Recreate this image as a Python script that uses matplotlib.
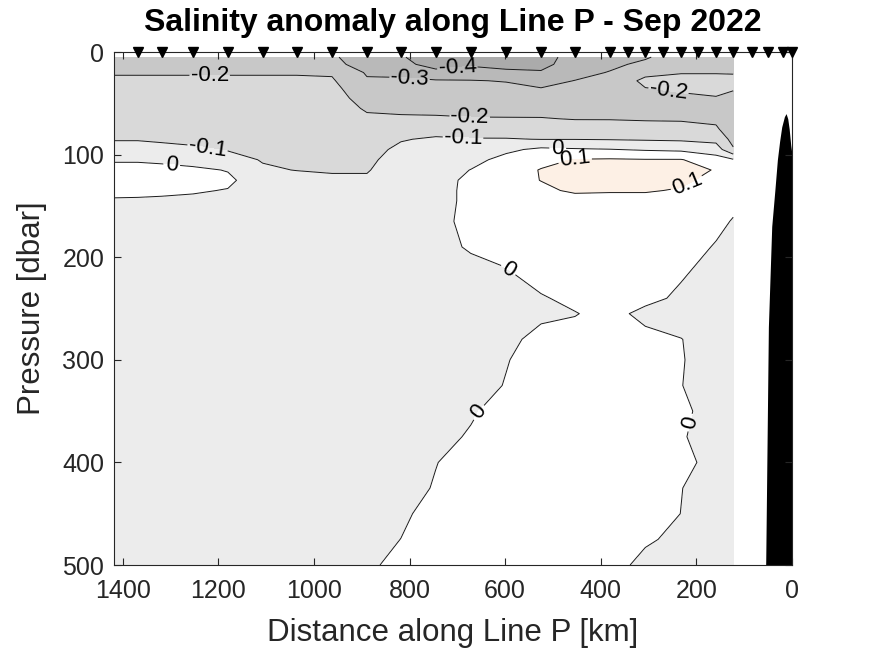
import numpy as np
import matplotlib
matplotlib.use("Agg")
from matplotlib import pyplot as plt

plt.rcParams['font.family'] = ['Liberation Sans', 'DejaVu Sans']

# distance of each gridded profile along Line P [km]
dist = [1420, 1368, 1318, 1253, 1180, 1107, 1036, 962, 889, 818,
        745, 672, 598, 525, 454, 381, 307, 232, 159, 123]
# pressure levels [dbar]
pres = [5, 12, 20, 28, 36, 45, 55, 65, 75, 85, 95, 105, 115, 125, 135, 145,
        165, 190, 215, 240, 255, 280, 300, 325, 350, 375, 400, 425, 450, 475, 500]

# salinity anomaly, one row per pressure level (columns follow dist)
sal_anom = [
    [-0.25, -0.25, -0.25, -0.25, -0.25, -0.25, -0.26, -0.29, -0.34, -0.395, -0.43, -0.43, -0.44, -0.44, -0.36, -0.34, -0.31, -0.25, -0.25, -0.25],
    [-0.23, -0.23, -0.23, -0.23, -0.23, -0.23, -0.24, -0.28, -0.33, -0.385, -0.42, -0.41, -0.43, -0.43, -0.35, -0.32, -0.28, -0.24, -0.24, -0.24],
    [-0.205, -0.205, -0.205, -0.205, -0.205, -0.205, -0.205, -0.21, -0.31, -0.33, -0.385, -0.37, -0.38, -0.39, -0.33, -0.295, -0.23, -0.205, -0.205, -0.205],
    [-0.19, -0.19, -0.19, -0.19, -0.19, -0.19, -0.19, -0.19, -0.29, -0.28, -0.29, -0.295, -0.305, -0.33, -0.298, -0.28, -0.175, -0.17, -0.17, -0.18],
    [-0.17, -0.17, -0.17, -0.17, -0.17, -0.175, -0.175, -0.175, -0.26, -0.265, -0.27, -0.27, -0.275, -0.295, -0.28, -0.27, -0.205, -0.19, -0.18, -0.195],
    [-0.16, -0.16, -0.16, -0.16, -0.16, -0.165, -0.165, -0.165, -0.235, -0.245, -0.25, -0.25, -0.255, -0.265, -0.26, -0.255, -0.24, -0.215, -0.205, -0.22],
    [-0.15, -0.15, -0.15, -0.15, -0.15, -0.155, -0.155, -0.155, -0.21, -0.215, -0.22, -0.225, -0.23, -0.235, -0.235, -0.23, -0.225, -0.225, -0.23, -0.24],
    [-0.14, -0.14, -0.14, -0.14, -0.14, -0.145, -0.145, -0.145, -0.185, -0.19, -0.19, -0.195, -0.195, -0.195, -0.205, -0.205, -0.21, -0.21, -0.215, -0.25],
    [-0.12, -0.125, -0.125, -0.13, -0.13, -0.135, -0.135, -0.135, -0.16, -0.15, -0.13, -0.14, -0.145, -0.15, -0.15, -0.155, -0.16, -0.17, -0.19, -0.245],
    [-0.105, -0.105, -0.11, -0.115, -0.12, -0.125, -0.125, -0.13, -0.14, -0.105, -0.09, -0.095, -0.095, -0.102, -0.102, -0.105, -0.11, -0.115, -0.13, -0.23],
    [-0.07, -0.07, -0.08, -0.09, -0.105, -0.115, -0.115, -0.12, -0.125, -0.085, -0.07, -0.06, -0.02, 0.02, 0.01, 0.003, -0.01, -0.02, -0.05, -0.19],
    [-0.01, -0.01, -0.02, -0.04, -0.07, -0.105, -0.11, -0.115, -0.115, -0.07, -0.055, -0.03, 0.03, 0.07, 0.105, 0.11, 0.105, 0.105, 0.04, 0.01],
    [0.03, 0.03, 0.03, 0.02, -0.005, -0.09, -0.102, -0.105, -0.105, -0.06, -0.045, 0.002, 0.05, 0.105, 0.13, 0.135, 0.135, 0.13, 0.095, 0.04],
    [0.04, 0.045, 0.045, 0.035, 0.02, -0.06, -0.07, -0.09, -0.09, -0.05, -0.035, 0.02, 0.06, 0.102, 0.13, 0.135, 0.135, 0.125, 0.06, 0.05],
    [0.025, 0.03, 0.025, 0.01, -0.005, -0.04, -0.045, -0.05, -0.06, -0.045, -0.03, 0.02, 0.05, 0.08, 0.115, 0.11, 0.11, 0.09, 0.045, 0.04],
    [-0.01, -0.015, -0.02, -0.02, -0.025, -0.03, -0.035, -0.035, -0.04, -0.04, -0.03, 0.02, 0.04, 0.05, 0.06, 0.06, 0.06, 0.05, 0.03, 0.02],
    [-0.03, -0.03, -0.035, -0.035, -0.035, -0.035, -0.04, -0.04, -0.04, -0.04, -0.03, 0.028, 0.04, 0.045, 0.05, 0.05, 0.05, 0.045, 0.02, -0.005],
    [-0.035, -0.035, -0.035, -0.04, -0.04, -0.04, -0.04, -0.04, -0.04, -0.04, -0.03, 0.01, 0.04, 0.045, 0.05, 0.05, 0.045, 0.034, -0.006, -0.03],
    [-0.035, -0.035, -0.04, -0.04, -0.04, -0.04, -0.04, -0.04, -0.04, -0.04, -0.04, -0.03, -0.01, 0.045, 0.05, 0.05, 0.04, 0.012, -0.04, -0.04],
    [-0.035, -0.035, -0.04, -0.04, -0.04, -0.04, -0.04, -0.04, -0.04, -0.04, -0.04, -0.04, -0.03, -0.01, 0.027, 0.04, 0.03, -0.02, -0.04, -0.04],
    [-0.035, -0.035, -0.04, -0.04, -0.04, -0.04, -0.04, -0.04, -0.04, -0.04, -0.04, -0.04, -0.035, -0.02, -0.005, 0.035, -0.029, -0.04, -0.04, -0.04],
    [-0.035, -0.035, -0.04, -0.04, -0.04, -0.04, -0.04, -0.04, -0.04, -0.04, -0.04, -0.035, -0.025, 0.03, 0.04, 0.04, 0.03, 0.002, -0.04, -0.04],
    [-0.035, -0.035, -0.04, -0.04, -0.04, -0.04, -0.04, -0.04, -0.04, -0.04, -0.04, -0.03, -0.005, 0.04, 0.045, 0.045, 0.04, 0.005, -0.04, -0.04],
    [-0.035, -0.035, -0.04, -0.04, -0.04, -0.04, -0.04, -0.04, -0.04, -0.04, -0.04, -0.04, 0.005, 0.04, 0.045, 0.045, 0.04, 0.002, -0.04, -0.04],
    [-0.035, -0.035, -0.04, -0.04, -0.04, -0.04, -0.04, -0.04, -0.04, -0.04, -0.035, -0.012, 0.04, 0.045, 0.045, 0.045, 0.04, 0.02, -0.04, -0.04],
    [-0.035, -0.035, -0.04, -0.04, -0.04, -0.04, -0.04, -0.04, -0.04, -0.04, -0.03, 0.01, 0.04, 0.045, 0.045, 0.045, 0.04, 0.008, -0.04, -0.04],
    [-0.035, -0.035, -0.04, -0.04, -0.04, -0.04, -0.04, -0.04, -0.04, -0.035, -0.003, 0.04, 0.045, 0.045, 0.045, 0.045, 0.04, 0.033, -0.04, -0.04],
    [-0.035, -0.035, -0.04, -0.04, -0.04, -0.04, -0.04, -0.04, -0.04, -0.04, 0.008, 0.04, 0.045, 0.045, 0.045, 0.045, 0.04, 0.002, -0.04, -0.04],
    [-0.035, -0.035, -0.04, -0.04, -0.04, -0.04, -0.04, -0.04, -0.04, -0.02, 0.04, 0.045, 0.045, 0.045, 0.045, 0.045, 0.04, -0.001, -0.04, -0.04],
    [-0.035, -0.035, -0.04, -0.04, -0.04, -0.04, -0.04, -0.04, -0.04, 0.001, 0.04, 0.045, 0.045, 0.045, 0.045, 0.04, 0.014, -0.025, -0.04, -0.04],
    [-0.035, -0.035, -0.04, -0.04, -0.04, -0.04, -0.04, -0.04, -0.025, 0.04, 0.045, 0.045, 0.045, 0.045, 0.045, 0.04, -0.03, -0.04, -0.04, -0.04],
]

# CTD station positions [km]
stations = [1368, 1318, 1253, 1180, 1107, 1036, 962, 889, 818, 745, 672, 598,
            525, 454, 381, 343, 307, 270, 232, 197, 159, 123, 84, 50, 19, 0]

# sea floor near the coast
bathy_km = [0, 2.7, 6, 9, 12.5, 16, 21.6, 26, 30.7, 36, 42.5, 49.5, 55, 56]
bathy_p = [100, 91, 75, 65, 60, 63, 73, 87, 105, 135, 170, 268, 495, 520]

levels = [-0.5, -0.4, -0.3, -0.2, -0.1, 0, 0.1, 0.2]
line_levels = [-0.4, -0.3, -0.2, -0.1, 0, 0.1]
fill_colors = ['#ababab', '#b9b9b9', '#c8c8c8', '#d9d9d9', '#ececec',
               '#ffffff', '#fdf0e5']

# spots where the contour labels sit (km, dbar)
label_spots = [(1218, 22), (800, 26), (700, 15), (259, 40), (674, 62),
               (688, 82), (1222, 92), (1297, 108), (490, 93), (454, 104),
               (218, 131), (590, 210), (659, 350), (207, 362)]

fig = plt.figure(figsize=(8.75, 6.56), dpi=100)
ax = fig.add_axes([0.1303, 0.1387, 0.7749, 0.782])

X, Y = np.meshgrid(dist, pres)
Z = np.array(sal_anom)
ax.contourf(X, Y, Z, levels=levels, colors=fill_colors)
cs = ax.contour(X, Y, Z, levels=line_levels, colors='#1a1a1a',
                linewidths=0.7, linestyles='solid')
ax.clabel(cs, fmt=lambda v: f'{v:g}', manual=label_spots, inline=True,
          inline_spacing=3, fontsize=16, colors='k')

ax.fill_between(bathy_km, bathy_p, 520, color='k', lw=0)
ax.plot(stations, np.zeros(len(stations)), 'kv', ms=7, clip_on=False, zorder=5)

ax.set_xlim(1418, 0)
ax.set_ylim(500, 0)
ax.set_xticks(range(0, 1401, 200))
ax.set_yticks(range(0, 501, 100))
ax.tick_params(direction='in', top=True, right=True, length=5, width=0.8,
               labelsize=18, colors='#262626')
ax.tick_params(axis='x', pad=10)
ax.tick_params(axis='y', pad=7)
for s in ax.spines.values():
    s.set_color('#262626')
    s.set_linewidth(0.8)

ax.set_xlabel('Distance along Line P [km]', fontsize=22.5, color='#262626', labelpad=11)
ax.set_ylabel('Pressure [dbar]', fontsize=22.5, color='#262626', labelpad=11)
ax.set_title('Salinity anomaly along Line P - Sep 2022', fontsize=23,
             fontweight='bold', pad=15)

fig.savefig('out.png', dpi=100)
